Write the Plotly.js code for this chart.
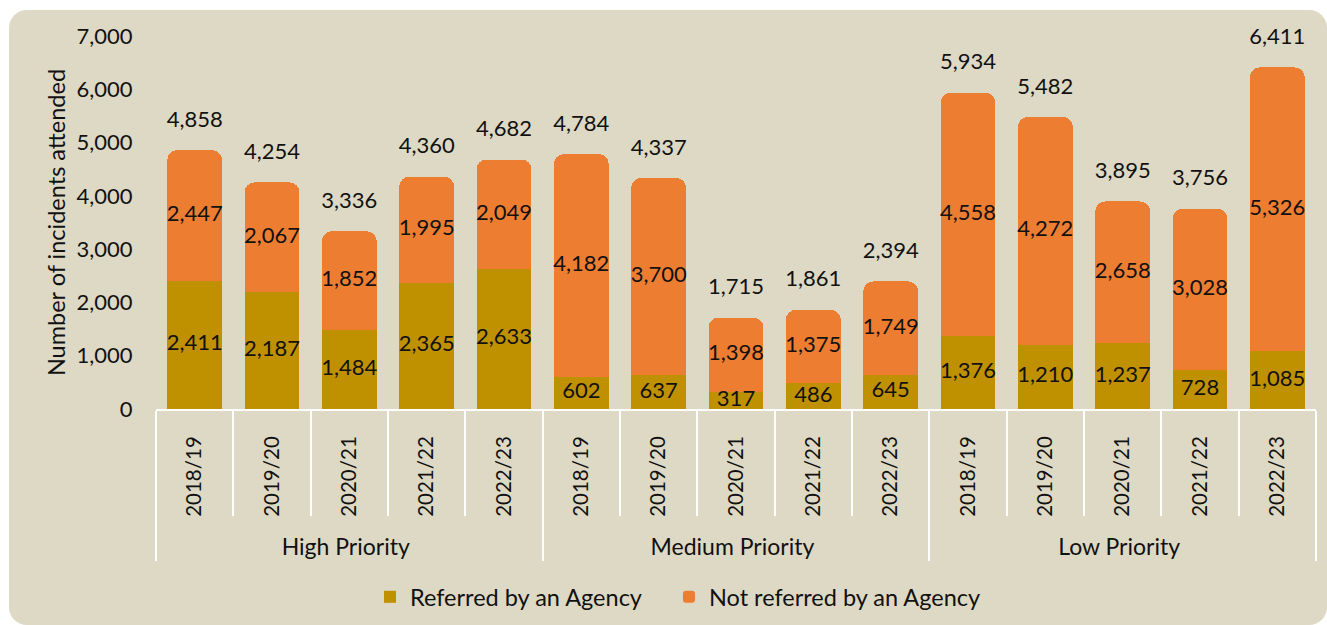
<!DOCTYPE html>
<html>
<head>
<meta charset="utf-8">
<script src="https://cdn.plot.ly/plotly-3.0.1.min.js"></script>
<style>
  html, body { margin: 0; padding: 0; background: #ffffff; width: 1327px; height: 625px; overflow: hidden; }
  #card { position: absolute; left: 9px; top: 10px; width: 1318px; height: 615px; border-radius: 18px; background: #DDD9C4; overflow: hidden; }
  #chart { width: 1318px; height: 615px; }
</style>
</head>
<body>
<div id="card"><div id="chart"></div></div>
<script>
const groups = ["High Priority", "Medium Priority", "Low Priority"];
const years = ["2018/19", "2019/20", "2020/21", "2021/22", "2022/23"];
const referred = [2411, 2187, 1484, 2365, 2633, 602, 637, 317, 486, 645, 1376, 1210, 1237, 728, 1085];
const notReferred = [2447, 2067, 1852, 1995, 2049, 4182, 3700, 1398, 1375, 1749, 4558, 4272, 2658, 3028, 5326];
const yTicks = [0, 1000, 2000, 3000, 4000, 5000, 6000, 7000];

// display labels for the two-level category axis
const groupLabel = g => '<span style="font-size:23px">' + g + '</span>';
const yearLabel = y => '\u00a0\u00a0\u00a0' + y;
const outer = [], inner = [];
groups.forEach(g => years.forEach(y => { outer.push(groupLabel(g)); inner.push(yearLabel(y)); }));
const totals = referred.map((v, i) => v + notReferred[i]);
const fmt = v => v.toLocaleString("en-US");

const FONT = "Lato, 'Open Sans', sans-serif";
const NUMFONT = { family: FONT, size: 22, color: "#111111" };
const LEGFONT = { family: FONT, size: 23.5, color: "#111111" };

const traces = [
  {
    type: "bar", name: "Referred by an Agency", legend: "legend",
    x: [outer, inner], y: referred,
    marker: { color: "#BF9000" },
    textposition: "none", hoverinfo: "y+name"
  },
  {
    type: "bar", name: "Not referred by an Agency", legend: "legend2",
    x: [outer, inner], y: notReferred,
    marker: { color: "#ED7D31", cornerradius: 10 },
    textposition: "none", hoverinfo: "y+name"
  },
  {
    type: "scatter", mode: "text", showlegend: false,
    x: [outer, inner], y: referred.map(v => v / 2),
    text: referred.map(fmt), textposition: "middle center",
    textfont: NUMFONT, cliponaxis: false, hoverinfo: "skip"
  },
  {
    type: "scatter", mode: "text", showlegend: false,
    x: [outer, inner], y: notReferred.map((v, i) => referred[i] + v / 2),
    text: notReferred.map(fmt), textposition: "middle center",
    textfont: NUMFONT, cliponaxis: false, hoverinfo: "skip"
  },
  {
    type: "scatter", mode: "markers+text", showlegend: false,
    x: [outer, inner], y: totals,
    marker: { size: 27, opacity: 0 },
    text: totals.map(fmt), textposition: "top center",
    textfont: NUMFONT, cliponaxis: false, hoverinfo: "skip"
  }
];

const layout = {
  width: 1318, height: 615,
  paper_bgcolor: "rgba(0,0,0,0)", plot_bgcolor: "rgba(0,0,0,0)",
  margin: { l: 147, r: 11, t: 26, b: 216 },
  barmode: "stack", bargap: 0.29,
  font: { family: FONT, size: 22, color: "#111111" },
  xaxis: {
    type: "multicategory",
    range: [-0.5, 14.5], autorange: false,
    tickangle: -90,
    tickfont: { family: FONT, size: 20.5, color: "#111111" },
    showline: true, linecolor: "#ffffff", linewidth: 2,
    ticks: "outside", tickson: "boundaries", ticklen: 105, tickcolor: "#ffffff", tickwidth: 2,
    ticklabelstandoff: 17,
    showdividers: true, dividercolor: "#ffffff", dividerwidth: 2,
    showgrid: false, zeroline: false
  },
  yaxis: {
    range: [0, 7000], autorange: false,
    tickvals: yTicks, ticktext: yTicks.map(fmt),
    tickfont: NUMFONT,
    ticks: "outside", ticklen: 18, tickcolor: "rgba(0,0,0,0)",
    showgrid: false, zeroline: false, showline: false,
    title: { text: "Number of incidents attended", font: { family: FONT, size: 23.5, color: "#111111" }, standoff: 4 }
  },
  legend: {
    orientation: "h", x: 0.1845, xanchor: "left", yref: "container", y: 0.0455, yanchor: "middle",
    font: LEGFONT, bgcolor: "rgba(0,0,0,0)"
  },
  legend2: {
    orientation: "h", x: 0.4422, xanchor: "left", yref: "container", y: 0.0455, yanchor: "middle",
    font: LEGFONT, bgcolor: "rgba(0,0,0,0)"
  },
  showlegend: true
};

Plotly.newPlot("chart", traces, layout, { displayModeBar: false, staticPlot: true });
</script>
</body>
</html>
